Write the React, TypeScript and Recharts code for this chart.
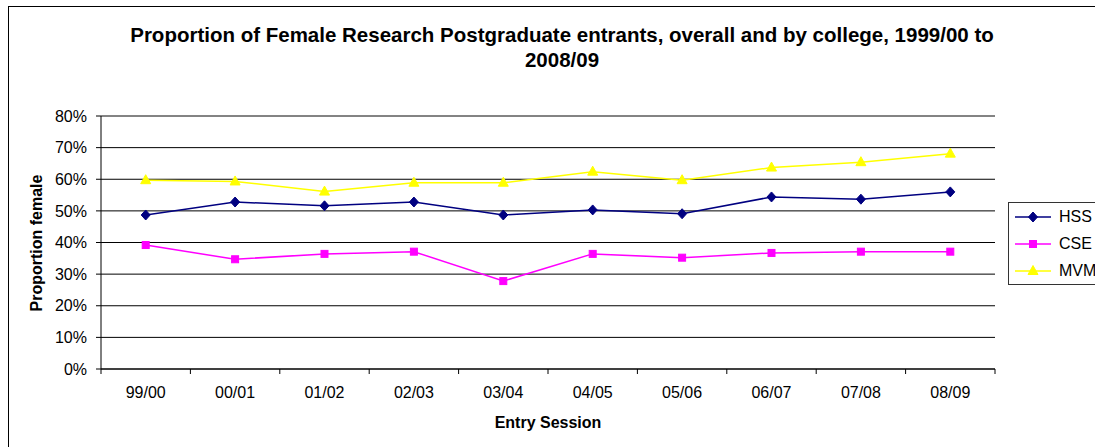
import { LineChart, Line, XAxis, YAxis, CartesianGrid, Legend, ReferenceLine } from "recharts";

const sessions = ["99/00", "00/01", "01/02", "02/03", "03/04", "04/05", "05/06", "06/07", "07/08", "08/09"];
const hss = [0.487, 0.528, 0.516, 0.528, 0.487, 0.503, 0.491, 0.544, 0.537, 0.56];
const cse = [0.392, 0.347, 0.364, 0.371, 0.278, 0.364, 0.352, 0.367, 0.371, 0.371];
const mvm = [0.597, 0.593, 0.561, 0.589, 0.589, 0.624, 0.597, 0.637, 0.654, 0.681];
const yTicks = [0, 0.1, 0.2, 0.3, 0.4, 0.5, 0.6, 0.7, 0.8];
const boundaryTicks = [0, 1, 2, 3, 4, 5, 6, 7, 8, 9, 10];

const series = [
  { key: "HSS", values: hss, color: "#000080", marker: "diamond" },
  { key: "CSE", values: cse, color: "#FF00FF", marker: "square" },
  { key: "MVM", values: mvm, color: "#FFFF00", marker: "triangle" },
];

const data = sessions.map((s, i) => ({
  session: s,
  idx: i + 0.5,
  HSS: hss[i],
  CSE: cse[i],
  MVM: mvm[i],
}));

const FONT = "'Liberation Sans', Arial, sans-serif";

const Marker = ({ cx, cy, type, color }: { cx: number; cy: number; type: string; color: string }) => {
  if (cx == null || cy == null) return null;
  if (type === "diamond") {
    return <polygon points={`${cx},${cy - 5} ${cx + 4.5},${cy} ${cx},${cy + 5} ${cx - 4.5},${cy}`} fill={color} stroke={color} />;
  }
  if (type === "square") {
    return <rect x={cx - 3.5} y={cy - 3.5} width={7} height={7} fill={color} stroke={color} />;
  }
  return <polygon points={`${cx},${cy - 5.5} ${cx + 5},${cy + 3.5} ${cx - 5},${cy + 3.5}`} fill={color} stroke={color} />;
};

// boundary tick marks between categories, drawn below the axis line
const BoundaryTick = (props: any) => {
  const { x, y } = props;
  return <line x1={x} y1={y} x2={x} y2={y + 5} stroke="#000" strokeWidth={1} />;
};

const LegendBox = () => (
  <div style={{ border: "1px solid #333", background: "#fff", padding: 0, width: 100 }}>
    {series.map(s => (
      <div key={s.key} style={{ display: "flex", alignItems: "center", height: 27, fontFamily: FONT, fontSize: 16 }}>
        <svg width={44} height={14} style={{ marginLeft: 6 }}>
          <line x1={0} y1={7} x2={36} y2={7} stroke={s.color} strokeWidth={1.5} />
          <Marker cx={18} cy={7} type={s.marker} color={s.color} />
        </svg>
        <span style={{ color: "#000" }}>{s.key}</span>
      </div>
    ))}
  </div>
);

export default function App() {
  return (
    <div style={{ position: "absolute", left: 0, top: 0, width: 1095, height: 447, overflow: "hidden", background: "#fff", fontFamily: FONT }}>
      <div style={{ position: "absolute", left: 8, top: 6, width: 1200, height: 600, borderLeft: "1px solid #000", borderTop: "1px solid #000" }} />
      <div style={{ position: "absolute", left: 60, width: 1004, top: 22, textAlign: "center", fontWeight: "bold", fontSize: 20.5, lineHeight: "25px", color: "#000" }}>
        Proportion of Female Research Postgraduate entrants, overall and by college, 1999/00 to
        <br />
        2008/09
      </div>
      <div style={{ position: "absolute", left: 37, top: 243, transform: "translate(-50%, -50%) rotate(-90deg)", whiteSpace: "nowrap", fontWeight: "bold", fontSize: 16 }}>
        Proportion female
      </div>
      <div style={{ position: "absolute", left: 548, top: 423, transform: "translate(-50%, -50%)", whiteSpace: "nowrap", fontWeight: "bold", fontSize: 16 }}>
        Entry Session
      </div>
      <div style={{ position: "absolute", left: 0, top: 0 }}>
        <LineChart width={1095} height={447} data={data} margin={{ top: 116, right: 0, bottom: 48, left: 41 }}>
          <CartesianGrid horizontal vertical={false} stroke="#000" strokeWidth={1} yAxisId="left" xAxisId="bCat" />
          <XAxis
            xAxisId="aTicks"
            dataKey="idx"
            type="number"
            domain={[0, 10]}
            ticks={boundaryTicks}
            interval={0}
            allowDataOverflow
            height={1}
            tickSize={0}
            tickMargin={0}
            tickLine={false}
            tick={<BoundaryTick />}
            axisLine={{ stroke: "#000" }}
          />
          <XAxis
            xAxisId="bCat"
            dataKey="session"
            scale="band"
            height={29}
            tickLine={false}
            axisLine={false}
            tickSize={0}
            tick={{ fontSize: 16, fill: "#000", fontFamily: FONT, dy: 15 }}
          />
          <YAxis
            yAxisId="left"
            domain={[0, 0.8]}
            ticks={yTicks}
            width={60}
            tickSize={5}
            tickLine={{ stroke: "#000" }}
            axisLine={{ stroke: "#000" }}
            tickFormatter={(v: number) => `${Math.round(v * 100)}%`}
            tick={{ fontSize: 16, fill: "#000", fontFamily: FONT, dx: -7 }}
          />
          <YAxis yAxisId="right" orientation="right" domain={[0, 0.8]} width={0} tick={false} tickLine={false} axisLine={{ stroke: "#888" }} />
          <ReferenceLine yAxisId="left" xAxisId="bCat" y={0.8} stroke="#888" />
          <Legend
            layout="vertical"
            verticalAlign="top"
            align="right"
            wrapperStyle={{ left: 1008, top: 202, width: 100 }}
            content={() => <LegendBox />}
          />
          {series.map(s => (
            <Line
              key={s.key}
              xAxisId="bCat"
              yAxisId="left"
              type="linear"
              dataKey={s.key}
              stroke={s.color}
              strokeWidth={1.5}
              isAnimationActive={false}
              dot={(p: any) => <Marker key={`${s.key}-${p.index}`} cx={p.cx} cy={p.cy} type={s.marker} color={s.color} />}
              activeDot={false}
            />
          ))}
        </LineChart>
      </div>
    </div>
  );
}
